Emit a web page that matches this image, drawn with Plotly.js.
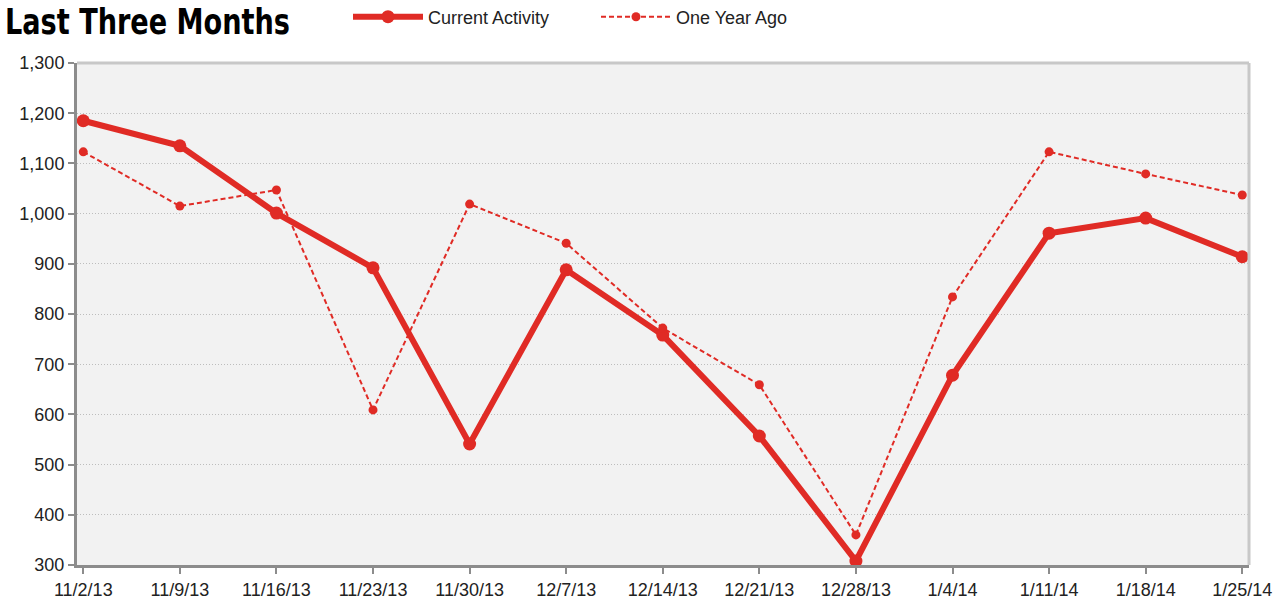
<!DOCTYPE html>
<html>
<head>
<meta charset="utf-8">
<script src="https://cdn.plot.ly/plotly-3.0.1.min.js"></script>
<style>html,body{margin:0;padding:0;background:#fff;}#chart{width:1275px;height:601px;}</style>
</head>
<body>
<div id="chart"></div>
<script>
const categories = ["11/2/13","11/9/13","11/16/13","11/23/13","11/30/13","12/7/13","12/14/13","12/21/13","12/28/13","1/4/14","1/11/14","1/18/14","1/25/14"];
const currentActivity = [1185,1135,1001,892,541,888,758,557,308,678,961,991,914];
const oneYearAgo = [1123,1015,1047,609,1019,941,772,659,360,834,1123,1079,1037];
const yTicks = [300,400,500,600,700,800,900,1000,1100,1200,1300];
const yTickLabels = ["300","400","500","600","700","800","900","1,000","1,100","1,200","1,300"];

const red = "#e02b25";
const traces = [
  {x: categories, y: currentActivity, name: "Current Activity", type: "scatter", mode: "lines+markers",
   line: {color: red, width: 6}, marker: {color: red, size: 13}},
  {x: categories, y: oneYearAgo, name: "One Year Ago", type: "scatter", mode: "lines+markers",
   line: {color: red, width: 2, dash: "5px,3px"}, marker: {color: red, size: 9}}
];
const layout = {
  width: 1275, height: 601,
  margin: {l: 77, r: 26, t: 63, b: 36},
  paper_bgcolor: "#ffffff", plot_bgcolor: "#f2f2f2",
  font: {family: "Liberation Sans, Arial, sans-serif", size: 18, color: "#222"},
  title: {text: "<b>Last Three Months</b>", x: 5/1275, xanchor: "left", xref: "container",
          y: 1 - 21/601, yanchor: "middle", yref: "container",
          font: {family: "DejaVu Sans Condensed, Liberation Sans Narrow, sans-serif", size: 36, color: "#000"}},
  showlegend: true,
  legend: {orientation: "h", x: 348/1275, xanchor: "left", xref: "container", y: 1 - 17/601, yanchor: "middle", yref: "container",
           font: {size: 18, color: "#222"}, itemwidth: 70, entrywidth: 163, entrywidthmode: "pixels",
           bgcolor: "rgba(0,0,0,0)", tracegroupgap: 0},
  xaxis: {type: "category", range: [-0.065, 12.07], showgrid: false, zeroline: false,
          showline: true, linecolor: "#8c8c8c", linewidth: 3,
          ticks: "outside", ticklen: 6, tickwidth: 2, tickcolor: "#8c8c8c",
          tickfont: {size: 18, color: "#222"}, fixedrange: true},
  yaxis: {range: [300, 1300], tickvals: yTicks, ticktext: yTickLabels,
          showgrid: true, gridcolor: "#bdbdbd", griddash: "1px,2px", gridwidth: 1, zeroline: false,
          showline: true, linecolor: "#8c8c8c", linewidth: 3,
          ticks: "outside", ticklen: 6, tickwidth: 2, tickcolor: "#8c8c8c",
          tickfont: {size: 18, color: "#222"}, fixedrange: true},
  shapes: [
    {type: "line", xref: "paper", yref: "paper", x0: 0, x1: 1, y0: 1, y1: 1, line: {color: "#c8c8c8", width: 3}},
    {type: "line", xref: "paper", yref: "paper", x0: 1, x1: 1, y0: 0, y1: 1, line: {color: "#c8c8c8", width: 3}}
  ]
};
Plotly.newPlot("chart", traces, layout, {displayModeBar: false, staticPlot: true}).then(function(gd){
  const t = gd.querySelector(".gtitle");
  if (t) { t.setAttribute("textLength", "285"); t.setAttribute("lengthAdjust", "spacingAndGlyphs"); }
});
</script>
</body>
</html>
